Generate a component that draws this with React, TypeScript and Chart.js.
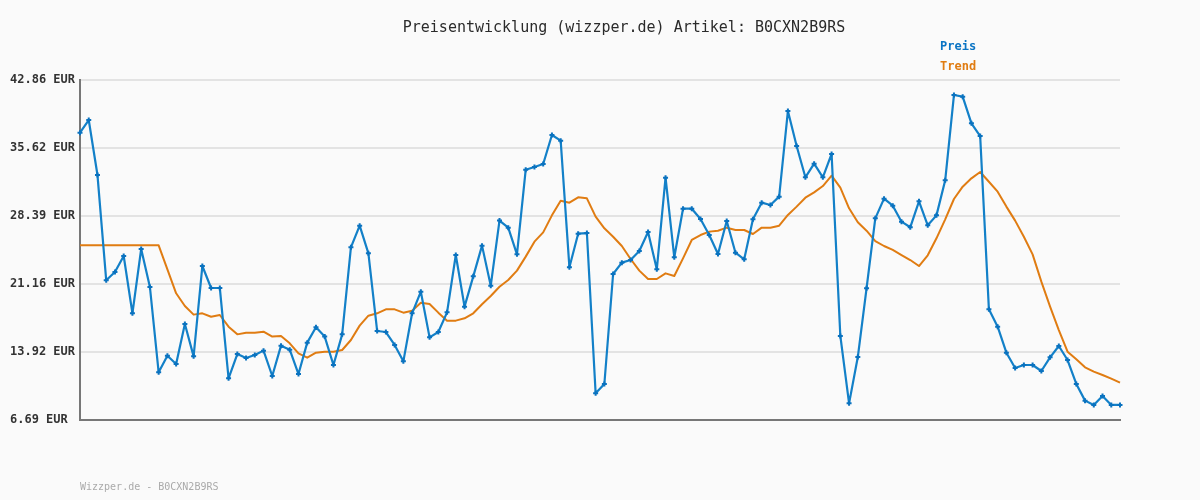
import React, { useEffect, useRef } from "react";
import { Chart, registerables } from "chart.js";

Chart.register(...registerables);

const TITLE = "Preisentwicklung (wizzper.de) Artikel: B0CXN2B9RS";
const FOOTER = "Wizzper.de - B0CXN2B9RS";
const SERIES_NAMES = ["Preis", "Trend"];
const Y_TICKS = [6.69, 13.92, 21.16, 28.39, 35.62, 42.86];

const PREIS = [
  37.26, 38.6, 32.75, 21.55, 22.43, 24.14, 18.04, 24.88, 20.84, 11.76,
  13.53, 12.65, 16.9, 13.46, 23.07, 20.73, 20.73, 11.12, 13.71, 13.29,
  13.6, 14.07, 11.37, 14.6, 14.17, 11.58, 14.92, 16.55, 15.56, 12.54,
  15.8, 25.06, 27.36, 24.42, 16.16, 16.05, 14.67, 12.93, 18.04, 20.34,
  15.48, 16.05, 18.14, 24.24, 18.75, 21.97, 25.24, 20.98, 27.9, 27.15,
  24.31, 33.32, 33.61, 33.92, 37.01, 36.41, 22.93, 26.51, 26.58, 9.53,
  10.52, 22.22, 23.43, 23.71, 24.67, 26.69, 22.72, 32.47, 24.0, 29.17,
  29.17, 28.07, 26.37, 24.35, 27.86, 24.49, 23.78, 28.04, 29.81, 29.56,
  30.45, 39.56, 35.84, 32.51, 33.96, 32.51, 34.99, 15.63, 8.46, 13.39,
  20.7, 28.14, 30.24, 29.49, 27.79, 27.19, 29.95, 27.4, 28.46, 32.19,
  41.26, 41.09, 38.25, 36.9, 18.46, 16.62, 13.85, 12.22, 12.54, 12.54,
  11.9, 13.36, 14.56, 13.07, 10.52, 8.75, 8.29, 9.24, 8.29, 8.29,
];

const TREND = [
  25.27, 25.27, 25.27, 25.27, 25.27, 25.27, 25.27, 25.27, 25.27, 25.27,
  22.72, 20.17, 18.82, 17.9, 18.04, 17.68, 17.86, 16.62, 15.8, 15.98,
  15.98, 16.09, 15.56, 15.63, 14.85, 13.78, 13.32, 13.85, 13.96, 13.96,
  14.14, 15.2, 16.73, 17.79, 18.04, 18.46, 18.46, 18.11, 18.32, 19.17,
  19.03, 18.11, 17.26, 17.26, 17.51, 18.04, 19.0, 19.88, 20.87, 21.58,
  22.58, 24.07, 25.66, 26.65, 28.46, 30.02, 29.81, 30.38, 30.27, 28.32,
  27.08, 26.19, 25.2, 23.82, 22.58, 21.69, 21.69, 22.29, 22.01, 23.89,
  25.84, 26.37, 26.73, 26.83, 27.15, 26.9, 26.9, 26.48, 27.15, 27.15,
  27.36, 28.5, 29.39, 30.34, 30.91, 31.58, 32.68, 31.41, 29.21, 27.72,
  26.83, 25.73, 25.2, 24.78, 24.24, 23.71, 23.07, 24.21, 26.02, 28.04,
  30.2, 31.51, 32.4, 33.07, 32.04, 30.98, 29.39, 27.9, 26.19, 24.31,
  21.41, 18.75, 16.26, 13.96, 13.14, 12.29, 11.83, 11.48, 11.09, 10.66,
];

const LABELS = PREIS.map((_, i) => String(i + 1));

const BLUE = "#1380c8";
const ORANGE = "#e07c12";
const MONO = '"DejaVu Sans Mono", "Liberation Mono", monospace';

const textPlugin = {
  id: "customTexts",
  afterDraw(chart: any) {
    const ctx = chart.ctx;
    ctx.save();
    ctx.textBaseline = "middle";
    ctx.font = `15px ${MONO}`;
    ctx.fillStyle = "#2a2a2a";
    ctx.textAlign = "center";
    ctx.fillText(TITLE, 624, 28);
    ctx.textAlign = "left";
    ctx.font = `bold 12px ${MONO}`;
    ctx.fillStyle = "#0a74c4";
    ctx.fillText(SERIES_NAMES[0], 940, 47);
    ctx.fillStyle = ORANGE;
    ctx.fillText(SERIES_NAMES[1], 940, 67);
    ctx.font = `10px ${MONO}`;
    ctx.fillStyle = "#aaaaaa";
    ctx.fillText(FOOTER, 80, 487);
    ctx.restore();
  },
};

export default function App() {
  const ref = useRef<HTMLCanvasElement | null>(null);

  useEffect(() => {
    document.body.style.margin = "0";
    document.body.style.background = "#fafafa";
    if (!ref.current) return;
    const chart = new Chart(ref.current, {
      type: "line",
      data: {
        labels: LABELS,
        datasets: [
          {
            label: SERIES_NAMES[0],
            data: PREIS,
            borderColor: BLUE,
            backgroundColor: BLUE,
            borderWidth: 2.2,
            borderJoinStyle: "round",
            tension: 0,
            pointStyle: "cross",
            pointRadius: 2.5,
            pointBorderWidth: 2,
            pointBorderColor: "#0a72bf",
            clip: false as any,
          },
          {
            label: SERIES_NAMES[1],
            data: TREND,
            borderColor: ORANGE,
            backgroundColor: ORANGE,
            borderWidth: 2,
            borderJoinStyle: "round",
            tension: 0,
            pointRadius: 0,
            clip: false as any,
          },
        ],
      },
      options: {
        responsive: false,
        animation: false,
        layout: { padding: { left: 10, right: 80, top: 80, bottom: 80 } },
        plugins: {
          legend: { display: false },
          title: { display: false },
          tooltip: { enabled: false },
        },
        scales: {
          x: {
            type: "category",
            offset: false,
            ticks: { display: false },
            grid: { display: false, drawTicks: false },
            border: { display: true, color: "#777777", width: 2 },
            afterFit: (s: any) => {
              s.height = 0;
            },
          },
          y: {
            min: 6.69,
            max: 42.86,
            afterBuildTicks: (s: any) => {
              s.ticks = Y_TICKS.map((v) => ({ value: v }));
            },
            afterFit: (s: any) => {
              s.width = 70;
            },
            ticks: {
              crossAlign: "far",
              padding: 0,
              color: "#333333",
              font: { family: MONO, size: 12, weight: "bold" },
              callback: (v: any) => Number(v).toFixed(2) + " EUR",
            },
            grid: { color: "#e3e3e3", lineWidth: 2, drawTicks: false },
            border: { display: true, color: "#777777", width: 2 },
          },
        },
      },
      plugins: [textPlugin],
    });
    return () => chart.destroy();
  }, []);

  return (
    <div style={{ width: 1200, height: 500, background: "#fafafa" }}>
      <canvas ref={ref} width={1200} height={500} />
    </div>
  );
}
